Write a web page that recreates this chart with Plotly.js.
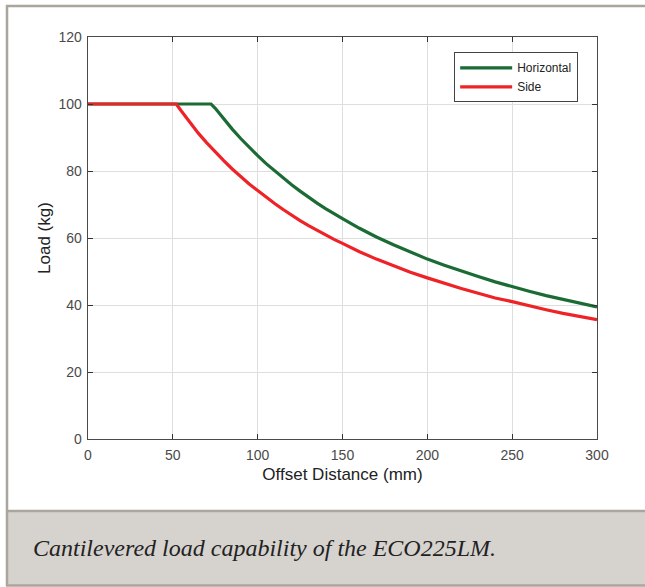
<!DOCTYPE html>
<html>
<head>
<meta charset="utf-8">
<script src="https://cdn.plot.ly/plotly-3.0.1.min.js"></script>
<style>
html,body{margin:0;padding:0;background:#fff;overflow:hidden;}
#chart{width:645px;height:587px;}
</style>
</head>
<body>
<div id="chart"></div>
<script>
// Offset distance (mm) and load (kg)
const horizontalX = [0, 72.5, 75, 80, 85, 90, 95, 100, 105, 110, 115, 120, 125, 130, 135, 140, 145, 150, 160, 170, 180, 190, 200, 210, 220, 230, 240, 250, 260, 270, 280, 290, 300];
const horizontalY = [100, 100, 98.7, 95.5, 92.5, 89.7, 87.0, 84.6, 82.2, 80.0, 77.8, 75.9, 74.0, 72.1, 70.4, 68.8, 67.2, 65.8, 62.9, 60.3, 58.0, 55.8, 53.7, 51.9, 50.1, 48.5, 46.9, 45.4, 44.1, 42.8, 41.6, 40.5, 39.4];
const sideX = [0, 52, 55, 60, 65, 70, 75, 80, 85, 90, 95, 100, 105, 110, 115, 120, 125, 130, 135, 140, 145, 150, 160, 170, 180, 190, 200, 210, 220, 230, 240, 250, 260, 270, 280, 290, 300];
const sideY = [100, 100, 97.9, 94.5, 91.3, 88.4, 85.6, 83.1, 80.6, 78.3, 76.1, 74.2, 72.1, 70.3, 68.5, 66.8, 65.2, 63.7, 62.3, 60.9, 59.6, 58.4, 55.9, 53.7, 51.7, 49.8, 48.1, 46.4, 44.9, 43.5, 42.1, 41.0, 39.7, 38.6, 37.5, 36.5, 35.6];
const xTicks = [0, 50, 100, 150, 200, 250, 300];
const yTicks = [0, 20, 40, 60, 80, 100, 120];
const seriesNames = ['Horizontal', 'Side'];
const captionText = 'Cantilevered load capability of the ECO225LM.';

// plot area in pixels: left 88, right 597, top 37, bottom 439
const L = 88, R = 597, T = 37, B = 439, W = 645, H = 587;
const px = v => (v - L) / (R - L);
const py = v => (B - v) / (B - T);

const traces = [
  {x: horizontalX, y: horizontalY, name: seriesNames[0], mode: 'lines',
   line: {color: '#1b6b34', width: 3.2}},
  {x: sideX, y: sideY, name: seriesNames[1], mode: 'lines',
   line: {color: '#ee2328', width: 3.2}}
];

const axisCommon = {
  showline: true, mirror: 'ticks', linecolor: '#4a4a4a', linewidth: 1.3,
  ticks: 'inside', ticklen: 5, tickcolor: '#333333', tickwidth: 1,
  showgrid: true, gridcolor: '#dedede', gridwidth: 1,
  zeroline: false,
  tickfont: {family: 'Liberation Sans, Arial, sans-serif', size: 14, color: '#4a4a4a'}
};

const layout = {
  width: W, height: H,
  margin: {l: L, r: W - R, t: T, b: H - B},
  paper_bgcolor: '#ffffff', plot_bgcolor: '#ffffff',
  showlegend: true,
  legend: {
    x: 0.963, xanchor: 'right', y: 0.962, yanchor: 'top',
    bgcolor: '#ffffff', bordercolor: '#444444', borderwidth: 1,
    font: {family: 'Liberation Sans, Arial, sans-serif', size: 12, color: '#222222'},
    tracegroupgap: 0, itemwidth: 52
  },
  xaxis: Object.assign({}, axisCommon, {
    range: [0, 300], tickvals: xTicks, ticktext: xTicks.map(String),
    ticklabelstandoff: 3,
    title: {text: 'Offset Distance (mm)', standoff: 6,
            font: {family: 'Liberation Sans, Arial, sans-serif', size: 17, color: '#222222'}}
  }),
  yaxis: Object.assign({}, axisCommon, {
    range: [0, 120], tickvals: yTicks, ticktext: yTicks.map(String),
    ticklabelstandoff: 2,
    title: {text: 'Load (kg)', standoff: 3,
            font: {family: 'Liberation Sans, Arial, sans-serif', size: 17, color: '#222222'}}
  }),
  shapes: [
    // caption box
    {type: 'rect', xref: 'paper', yref: 'paper', x0: px(7), x1: px(645), y0: py(511), y1: py(585.5),
     fillcolor: '#d6d3cf', line: {width: 0}, layer: 'below'},
    // panel border (top, left, caption top and bottom)
    {type: 'line', xref: 'paper', yref: 'paper', x0: px(6), x1: px(645), y0: py(6), y1: py(6),
     line: {color: '#aaa59d', width: 2.5}, layer: 'below'},
    {type: 'line', xref: 'paper', yref: 'paper', x0: px(7), x1: px(7), y0: py(5), y1: py(586),
     line: {color: '#aaa59d', width: 2.5}, layer: 'below'},
    {type: 'line', xref: 'paper', yref: 'paper', x0: px(6), x1: px(645), y0: py(511), y1: py(511),
     line: {color: '#aaa59d', width: 2.5}, layer: 'below'},
    {type: 'line', xref: 'paper', yref: 'paper', x0: px(6), x1: px(645), y0: py(585.5), y1: py(585.5),
     line: {color: '#aaa59d', width: 2.5}, layer: 'below'}
  ],
  annotations: [
    {text: '<i>' + captionText + '</i>', xref: 'paper', yref: 'paper',
     x: px(31), y: py(548), xanchor: 'left', yanchor: 'middle', showarrow: false,
     font: {family: 'Liberation Serif, Times New Roman, serif', size: 24, color: '#222222'}}
  ]
};

Plotly.newPlot('chart', traces, layout, {displayModeBar: false, staticPlot: true});
</script>
</body>
</html>
